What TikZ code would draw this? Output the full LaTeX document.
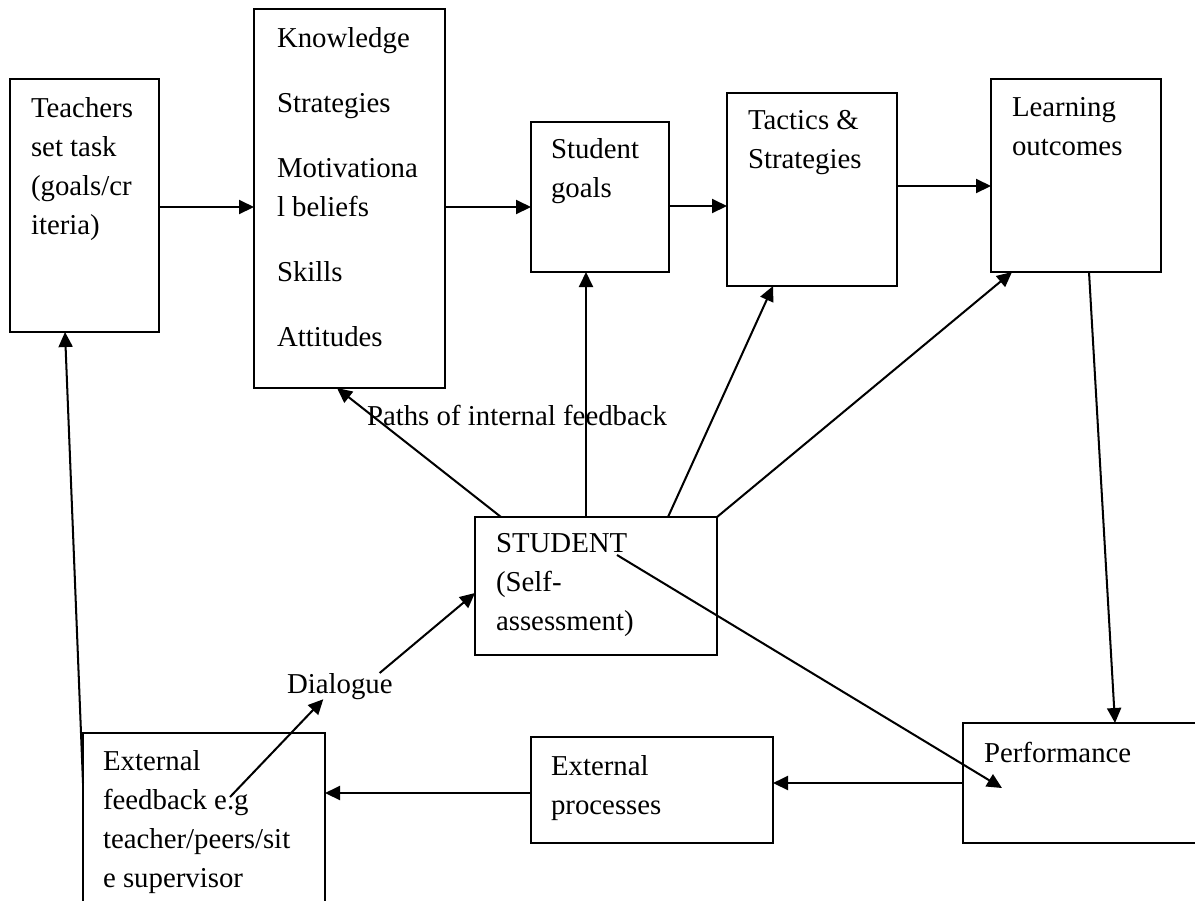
\documentclass[tikz,border=0pt]{standalone}
\usepackage{fontspec}
\setmainfont{Liberation Serif}
\usetikzlibrary{positioning, calc, arrows.meta}

\begin{document}
\begin{tikzpicture}[
  every node/.append style={inner sep=0pt, outer sep=0pt},
  box/.style={draw, line width=1.15pt},
  txt/.style={anchor=north west, align=left, font=\fontsize{16.4}{22.2}\selectfont},
  lbl/.style={anchor=base west, font=\fontsize{16.4}{22.2}\selectfont},
  arr/.style={-{Triangle[length=0.3cm, width=0.28cm]}, line width=1.15pt},
]
\useasboundingbox (0,0) rectangle (23.9,-18);
\clip (0,0) rectangle (23.9,-18);

%% --- top row ---
\node[box, minimum width=2.98cm, minimum height=5.06cm] (teach) at (1.69,-4.11) {};
\node[txt] (teachtx) at (0.62,-1.95) {Teachers\\set task\\(goals/cr\\iteria)};
\node[box, minimum width=3.82cm, minimum height=7.58cm] (know) at (6.99,-3.97) {};
\node[txt] (knowtx) at (5.54,-0.55) {Knowledge\\[0.52cm]Strategies\\[0.52cm]Motivationa\\l beliefs\\[0.52cm]Skills\\[0.52cm]Attitudes};
\node[box, minimum width=2.76cm, minimum height=3.00cm] (goals) at (12.00,-3.94) {};
\node[txt] (goalstx) at (11.02,-2.77) {Student\\goals};
\node[box, minimum width=3.40cm, minimum height=3.86cm] (tact) at (16.24,-3.79) {};
\node[txt] (tacttx) at (14.96,-2.21) {Tactics \&\\Strategies};
\node[box, minimum width=3.40cm, minimum height=3.86cm] (learn) at (21.52,-3.51) {};
\node[txt] (learntx) at (20.24,-1.95) {Learning\\outcomes};

%% --- middle ---
\node[lbl] (paths) at (7.34,-8.50) {Paths of internal feedback};
\node[box, minimum width=4.84cm, minimum height=2.76cm] (stud) at (11.92,-11.72) {};
\node[txt] (studtx) at (9.92,-10.67) {STUDENT\\(Self-\\assessment)};
\node[lbl] (dlg) at (5.74,-13.86) {Dialogue};

%% --- bottom row ---
\node[box, minimum width=4.84cm, minimum height=3.74cm] (ext) at (4.08,-16.53) {};
\node[txt] (exttx) at (2.06,-15.01) {External\\feedback e.g\\teacher/peers/sit\\e supervisor};
\node[box, minimum width=4.84cm, minimum height=2.12cm] (proc) at (13.04,-15.80) {};
\node[txt] (proctx) at (11.02,-15.11) {External\\processes};
\node[box, minimum width=5.04cm, minimum height=2.40cm] (perf) at (21.78,-15.66) {};
\node[txt] (perftx) at (19.68,-14.85) {Performance};

%% --- connectors ---
\draw[arr] ([yshift=-0.03cm]teach.east) -- ([yshift=-0.03cm]teach.east -| know.west);
\draw[arr] ([yshift=-0.17cm]know.east) -- ([yshift=-0.17cm]know.east -| goals.west);
\draw[arr] ([yshift=-0.18cm]goals.east) -- ([yshift=-0.18cm]goals.east -| tact.west);
\draw[arr] ([yshift=0.07cm]tact.east) -- ([yshift=0.07cm]tact.east -| learn.west);
\draw[arr] ([xshift=0.26cm]learn.south) -- ([xshift=0.52cm]perf.north);
\draw[arr] (perf.west) -- (perf.west -| proc.east);
\draw[arr] ([yshift=-0.06cm]proc.west) -- ([yshift=-0.06cm]proc.west -| ext.east);
\draw[arr] ([yshift=0.87cm]ext.west) -- ([xshift=-0.39cm]teach.south);
\draw[arr] ([xshift=-1.90cm]stud.north) -- ([xshift=-0.25cm]know.south);
\draw[arr] ([xshift=-0.20cm]stud.north) -- ([xshift=-0.20cm]stud.north |- goals.south);
\draw[arr] ([xshift=1.44cm]stud.north) -- ([xshift=-0.78cm]tact.south);
\draw[arr] (stud.north east) -- ([xshift=0.42cm]learn.south west);
\draw[arr] ($(stud.north west)+(2.84,-0.76)$) -- ($(perf.north west)+(0.78,-1.30)$);
\draw[arr] ($(ext.north west)+(2.94,-1.28)$) -- ([xshift=-0.33cm]dlg.south);
\draw[arr] ([xshift=-0.26cm]dlg.north east) -- ([yshift=-0.14cm]stud.west);

\end{tikzpicture}
\end{document}
